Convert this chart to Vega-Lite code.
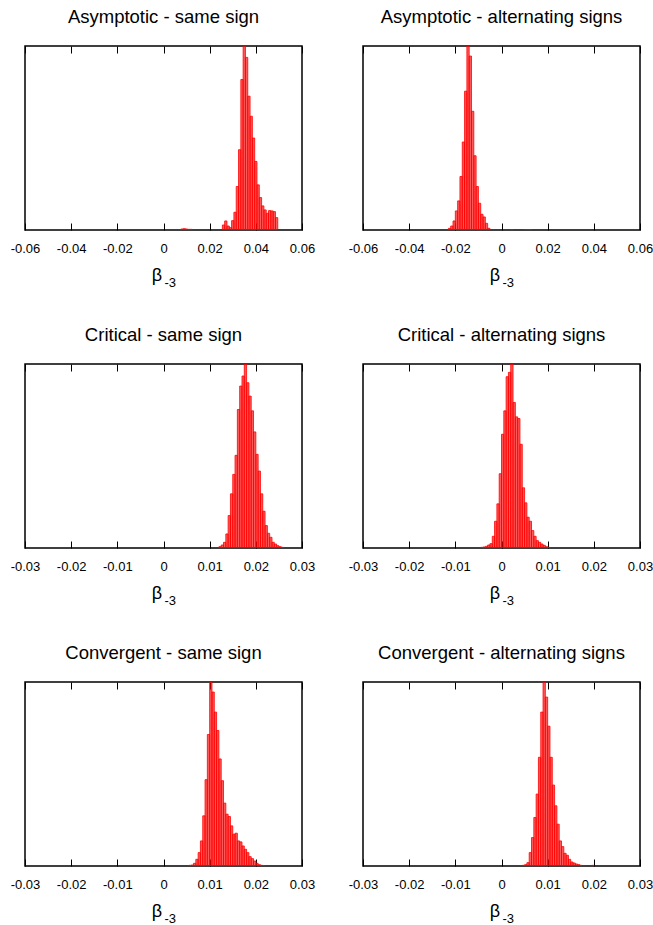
{
  "$schema": "https://vega.github.io/schema/vega-lite/v6.json",
  "padding": {"left": 9, "top": 7, "right": 0, "bottom": 0},
  "config": {
    "font": "Liberation Sans",
    "view": {"stroke": "#000", "strokeWidth": 1.5},
    "title": {"fontSize": 18.5, "fontWeight": "normal", "font": "Liberation Sans", "color": "#000", "offset": 19, "anchor": "middle"},
    "axis": {
      "labelFont": "Liberation Sans", "labelFontSize": 13, "labelColor": "#000", "labelFlush": false,
      "titleFont": "Liberation Sans", "titleFontWeight": "normal", "titleColor": "#000",
      "tickSize": -7, "tickColor": "#000", "tickWidth": 1, "domain": false, "grid": false,
      "labelPadding": 19
    }
  },
  "datasets": {
    "a1": [
      {"lo": 0.0075, "hi": 0.0085, "n": 3}, {"lo": 0.0085, "hi": 0.0095, "n": 4}, {"lo": 0.0095, "hi": 0.0105, "n": 3},
      {"lo": 0.0105, "hi": 0.0115, "n": 2}, {"lo": 0.0115, "hi": 0.0125, "n": 2},
      {"lo": 0.0255, "hi": 0.0265, "n": 15}, {"lo": 0.0265, "hi": 0.0275, "n": 27}, {"lo": 0.0275, "hi": 0.0285, "n": 12},
      {"lo": 0.0285, "hi": 0.0295, "n": 7}, {"lo": 0.0295, "hi": 0.0305, "n": 28}, {"lo": 0.0305, "hi": 0.0315, "n": 53},
      {"lo": 0.0315, "hi": 0.0325, "n": 130}, {"lo": 0.0325, "hi": 0.0335, "n": 240}, {"lo": 0.0335, "hi": 0.0345, "n": 450},
      {"lo": 0.0345, "hi": 0.0355, "n": 550}, {"lo": 0.0355, "hi": 0.0365, "n": 516}, {"lo": 0.0365, "hi": 0.0375, "n": 400},
      {"lo": 0.0375, "hi": 0.0385, "n": 340}, {"lo": 0.0385, "hi": 0.0395, "n": 275}, {"lo": 0.0395, "hi": 0.0405, "n": 205},
      {"lo": 0.0405, "hi": 0.0415, "n": 135}, {"lo": 0.0415, "hi": 0.0425, "n": 97}, {"lo": 0.0425, "hi": 0.0435, "n": 72},
      {"lo": 0.0435, "hi": 0.0445, "n": 60}, {"lo": 0.0445, "hi": 0.0455, "n": 50}, {"lo": 0.0455, "hi": 0.0465, "n": 58},
      {"lo": 0.0465, "hi": 0.0475, "n": 57}, {"lo": 0.0475, "hi": 0.0485, "n": 55}, {"lo": 0.0485, "hi": 0.0495, "n": 37}
    ],
    "a2": [
      {"lo": -0.023, "hi": -0.022, "n": 5}, {"lo": -0.022, "hi": -0.021, "n": 12}, {"lo": -0.021, "hi": -0.02, "n": 27},
      {"lo": -0.02, "hi": -0.019, "n": 57}, {"lo": -0.019, "hi": -0.018, "n": 87}, {"lo": -0.018, "hi": -0.017, "n": 160},
      {"lo": -0.017, "hi": -0.016, "n": 263}, {"lo": -0.016, "hi": -0.015, "n": 415}, {"lo": -0.015, "hi": -0.014, "n": 550},
      {"lo": -0.014, "hi": -0.013, "n": 520}, {"lo": -0.013, "hi": -0.012, "n": 355}, {"lo": -0.012, "hi": -0.011, "n": 222},
      {"lo": -0.011, "hi": -0.01, "n": 130}, {"lo": -0.01, "hi": -0.009, "n": 80}, {"lo": -0.009, "hi": -0.008, "n": 47},
      {"lo": -0.008, "hi": -0.007, "n": 39}, {"lo": -0.007, "hi": -0.006, "n": 20}, {"lo": -0.006, "hi": -0.005, "n": 5},
      {"lo": 0.004, "hi": 0.005, "n": 1}, {"lo": 0.01, "hi": 0.011, "n": 1}, {"lo": 0.011, "hi": 0.012, "n": 1}, {"lo": 0.012, "hi": 0.013, "n": 1}
    ],
    "c1": [
      {"lo": 0.012, "hi": 0.0125, "n": 4}, {"lo": 0.0125, "hi": 0.013, "n": 9}, {"lo": 0.013, "hi": 0.0135, "n": 17},
      {"lo": 0.0135, "hi": 0.014, "n": 42}, {"lo": 0.014, "hi": 0.0145, "n": 97}, {"lo": 0.0145, "hi": 0.015, "n": 162},
      {"lo": 0.015, "hi": 0.0155, "n": 220}, {"lo": 0.0155, "hi": 0.016, "n": 277}, {"lo": 0.016, "hi": 0.0165, "n": 414},
      {"lo": 0.0165, "hi": 0.017, "n": 484}, {"lo": 0.017, "hi": 0.0175, "n": 514}, {"lo": 0.0175, "hi": 0.018, "n": 550},
      {"lo": 0.018, "hi": 0.0185, "n": 494}, {"lo": 0.0185, "hi": 0.019, "n": 454}, {"lo": 0.019, "hi": 0.0195, "n": 410},
      {"lo": 0.0195, "hi": 0.02, "n": 347}, {"lo": 0.02, "hi": 0.0205, "n": 280}, {"lo": 0.0205, "hi": 0.021, "n": 230},
      {"lo": 0.021, "hi": 0.0215, "n": 162}, {"lo": 0.0215, "hi": 0.022, "n": 110}, {"lo": 0.022, "hi": 0.0225, "n": 67},
      {"lo": 0.0225, "hi": 0.023, "n": 44}, {"lo": 0.023, "hi": 0.0235, "n": 32}, {"lo": 0.0235, "hi": 0.024, "n": 17},
      {"lo": 0.024, "hi": 0.0245, "n": 12}, {"lo": 0.0245, "hi": 0.025, "n": 7}, {"lo": 0.025, "hi": 0.0255, "n": 4},
      {"lo": 0.0255, "hi": 0.026, "n": 2}
    ],
    "c2": [
      {"lo": -0.0045, "hi": -0.004, "n": 2}, {"lo": -0.004, "hi": -0.0035, "n": 3}, {"lo": -0.0035, "hi": -0.003, "n": 5},
      {"lo": -0.003, "hi": -0.0025, "n": 9}, {"lo": -0.0025, "hi": -0.002, "n": 13}, {"lo": -0.002, "hi": -0.0015, "n": 35},
      {"lo": -0.0015, "hi": -0.001, "n": 80}, {"lo": -0.001, "hi": -0.0005, "n": 132}, {"lo": -0.0005, "hi": 0, "n": 222},
      {"lo": 0, "hi": 0.0005, "n": 340}, {"lo": 0.0005, "hi": 0.001, "n": 410}, {"lo": 0.001, "hi": 0.0015, "n": 512},
      {"lo": 0.0015, "hi": 0.002, "n": 525}, {"lo": 0.002, "hi": 0.0025, "n": 550}, {"lo": 0.0025, "hi": 0.003, "n": 435},
      {"lo": 0.003, "hi": 0.0035, "n": 392}, {"lo": 0.0035, "hi": 0.004, "n": 387}, {"lo": 0.004, "hi": 0.0045, "n": 310},
      {"lo": 0.0045, "hi": 0.005, "n": 180}, {"lo": 0.005, "hi": 0.0055, "n": 135}, {"lo": 0.0055, "hi": 0.006, "n": 92},
      {"lo": 0.006, "hi": 0.0065, "n": 80}, {"lo": 0.0065, "hi": 0.007, "n": 52}, {"lo": 0.007, "hi": 0.0075, "n": 35},
      {"lo": 0.0075, "hi": 0.008, "n": 22}, {"lo": 0.008, "hi": 0.0085, "n": 17}, {"lo": 0.0085, "hi": 0.009, "n": 12},
      {"lo": 0.009, "hi": 0.0095, "n": 8}, {"lo": 0.0095, "hi": 0.01, "n": 4}, {"lo": 0.01, "hi": 0.0105, "n": 2}
    ],
    "v1": [
      {"lo": 0.0055, "hi": 0.006, "n": 2}, {"lo": 0.006, "hi": 0.0065, "n": 3}, {"lo": 0.0065, "hi": 0.007, "n": 8},
      {"lo": 0.007, "hi": 0.0075, "n": 20}, {"lo": 0.0075, "hi": 0.008, "n": 40}, {"lo": 0.008, "hi": 0.0085, "n": 75},
      {"lo": 0.0085, "hi": 0.009, "n": 150}, {"lo": 0.009, "hi": 0.0095, "n": 258}, {"lo": 0.0095, "hi": 0.01, "n": 393},
      {"lo": 0.01, "hi": 0.0105, "n": 550}, {"lo": 0.0105, "hi": 0.011, "n": 520}, {"lo": 0.011, "hi": 0.0115, "n": 460},
      {"lo": 0.0115, "hi": 0.012, "n": 405}, {"lo": 0.012, "hi": 0.0125, "n": 320}, {"lo": 0.0125, "hi": 0.013, "n": 255},
      {"lo": 0.013, "hi": 0.0135, "n": 188}, {"lo": 0.0135, "hi": 0.014, "n": 155}, {"lo": 0.014, "hi": 0.0145, "n": 148},
      {"lo": 0.0145, "hi": 0.015, "n": 120}, {"lo": 0.015, "hi": 0.0155, "n": 95}, {"lo": 0.0155, "hi": 0.016, "n": 98},
      {"lo": 0.016, "hi": 0.0165, "n": 75}, {"lo": 0.0165, "hi": 0.017, "n": 72}, {"lo": 0.017, "hi": 0.0175, "n": 60},
      {"lo": 0.0175, "hi": 0.018, "n": 50}, {"lo": 0.018, "hi": 0.0185, "n": 40}, {"lo": 0.0185, "hi": 0.019, "n": 28},
      {"lo": 0.019, "hi": 0.0195, "n": 22}, {"lo": 0.0195, "hi": 0.02, "n": 15}, {"lo": 0.02, "hi": 0.0205, "n": 8},
      {"lo": 0.0205, "hi": 0.021, "n": 4}, {"lo": 0.021, "hi": 0.0215, "n": 2}, {"lo": 0.0215, "hi": 0.022, "n": 1}
    ],
    "v2": [
      {"lo": 0.004, "hi": 0.0045, "n": 1}, {"lo": 0.0045, "hi": 0.005, "n": 2}, {"lo": 0.005, "hi": 0.0055, "n": 4},
      {"lo": 0.0055, "hi": 0.006, "n": 10}, {"lo": 0.006, "hi": 0.0065, "n": 40}, {"lo": 0.0065, "hi": 0.007, "n": 85},
      {"lo": 0.007, "hi": 0.0075, "n": 145}, {"lo": 0.0075, "hi": 0.008, "n": 215}, {"lo": 0.008, "hi": 0.0085, "n": 325},
      {"lo": 0.0085, "hi": 0.009, "n": 460}, {"lo": 0.009, "hi": 0.0095, "n": 550}, {"lo": 0.0095, "hi": 0.01, "n": 505},
      {"lo": 0.01, "hi": 0.0105, "n": 418}, {"lo": 0.0105, "hi": 0.011, "n": 325}, {"lo": 0.011, "hi": 0.0115, "n": 242},
      {"lo": 0.0115, "hi": 0.012, "n": 180}, {"lo": 0.012, "hi": 0.0125, "n": 125}, {"lo": 0.0125, "hi": 0.013, "n": 75},
      {"lo": 0.013, "hi": 0.0135, "n": 58}, {"lo": 0.0135, "hi": 0.014, "n": 38}, {"lo": 0.014, "hi": 0.0145, "n": 32},
      {"lo": 0.0145, "hi": 0.015, "n": 20}, {"lo": 0.015, "hi": 0.0155, "n": 12}, {"lo": 0.0155, "hi": 0.016, "n": 9},
      {"lo": 0.016, "hi": 0.0165, "n": 6}, {"lo": 0.0165, "hi": 0.017, "n": 4}, {"lo": 0.017, "hi": 0.0175, "n": 2},
      {"lo": 0.0195, "hi": 0.02, "n": 2}
    ]
  },
  "columns": 2,
  "spacing": {"row": 134, "column": 61},
  "bounds": "flush",
  "concat": [
    {
      "title": "Asymptotic - same sign", "width": 277, "height": 184, "data": {"name": "a1"},
      "layer": [
        {"mark": {"type": "bar", "fill": "#ff0000", "fillOpacity": 0.65, "stroke": "#ff0000", "strokeWidth": 0.8, "clip": true},
         "encoding": {
           "x": {"field": "lo", "type": "quantitative", "scale": {"domain": [-0.06, 0.06], "nice": false, "zero": false},
                 "axis": {"orient": "bottom", "values": [-0.06, -0.04, -0.02, 0, 0.02, 0.04, 0.06], "labelExpr": "'' + datum.value",
                          "title": "β", "titleFontSize": 18, "titleX": 131.5, "titleY": 50, "titleAlign": "center", "titleBaseline": "alphabetic", "titleAngle": 0}},
           "x2": {"field": "hi"},
           "y": {"field": "n", "type": "quantitative", "scale": {"domain": [0, 550]}, "axis": null},
           "y2": {"datum": 0}}},
        {"mark": {"type": "bar", "opacity": 0},
         "encoding": {
           "x": {"field": "lo", "type": "quantitative",
                 "axis": {"orient": "top", "values": [-0.06, -0.04, -0.02, 0, 0.02, 0.04, 0.06], "labels": false,
                          "title": "-3", "titleFontSize": 13, "titleX": 139, "titleY": 240.5, "titleAlign": "left", "titleBaseline": "alphabetic", "titleAngle": 0}},
           "x2": {"field": "hi"},
           "y": {"field": "n", "type": "quantitative", "axis": null},
           "y2": {"datum": 0}}}
      ],
      "resolve": {"axis": {"x": "independent"}}
    },
    {
      "title": "Asymptotic - alternating signs", "width": 277, "height": 184, "data": {"name": "a2"},
      "layer": [
        {"mark": {"type": "bar", "fill": "#ff0000", "fillOpacity": 0.65, "stroke": "#ff0000", "strokeWidth": 0.8, "clip": true},
         "encoding": {
           "x": {"field": "lo", "type": "quantitative", "scale": {"domain": [-0.06, 0.06], "nice": false, "zero": false},
                 "axis": {"orient": "bottom", "values": [-0.06, -0.04, -0.02, 0, 0.02, 0.04, 0.06], "labelExpr": "'' + datum.value",
                          "title": "β", "titleFontSize": 18, "titleX": 131.5, "titleY": 50, "titleAlign": "center", "titleBaseline": "alphabetic", "titleAngle": 0}},
           "x2": {"field": "hi"},
           "y": {"field": "n", "type": "quantitative", "scale": {"domain": [0, 550]}, "axis": null},
           "y2": {"datum": 0}}},
        {"mark": {"type": "bar", "opacity": 0},
         "encoding": {
           "x": {"field": "lo", "type": "quantitative",
                 "axis": {"orient": "top", "values": [-0.06, -0.04, -0.02, 0, 0.02, 0.04, 0.06], "labels": false,
                          "title": "-3", "titleFontSize": 13, "titleX": 139, "titleY": 240.5, "titleAlign": "left", "titleBaseline": "alphabetic", "titleAngle": 0}},
           "x2": {"field": "hi"},
           "y": {"field": "n", "type": "quantitative", "axis": null},
           "y2": {"datum": 0}}}
      ],
      "resolve": {"axis": {"x": "independent"}}
    },
    {
      "title": "Critical - same sign", "width": 277, "height": 184, "data": {"name": "c1"},
      "layer": [
        {"mark": {"type": "bar", "fill": "#ff0000", "fillOpacity": 0.65, "stroke": "#ff0000", "strokeWidth": 0.8, "clip": true},
         "encoding": {
           "x": {"field": "lo", "type": "quantitative", "scale": {"domain": [-0.03, 0.03], "nice": false, "zero": false},
                 "axis": {"orient": "bottom", "values": [-0.03, -0.02, -0.01, 0, 0.01, 0.02, 0.03], "labelExpr": "'' + datum.value",
                          "title": "β", "titleFontSize": 18, "titleX": 131.5, "titleY": 50, "titleAlign": "center", "titleBaseline": "alphabetic", "titleAngle": 0}},
           "x2": {"field": "hi"},
           "y": {"field": "n", "type": "quantitative", "scale": {"domain": [0, 550]}, "axis": null},
           "y2": {"datum": 0}}},
        {"mark": {"type": "bar", "opacity": 0},
         "encoding": {
           "x": {"field": "lo", "type": "quantitative",
                 "axis": {"orient": "top", "values": [-0.03, -0.02, -0.01, 0, 0.01, 0.02, 0.03], "labels": false,
                          "title": "-3", "titleFontSize": 13, "titleX": 139, "titleY": 240.5, "titleAlign": "left", "titleBaseline": "alphabetic", "titleAngle": 0}},
           "x2": {"field": "hi"},
           "y": {"field": "n", "type": "quantitative", "axis": null},
           "y2": {"datum": 0}}}
      ],
      "resolve": {"axis": {"x": "independent"}}
    },
    {
      "title": "Critical - alternating signs", "width": 277, "height": 184, "data": {"name": "c2"},
      "layer": [
        {"mark": {"type": "bar", "fill": "#ff0000", "fillOpacity": 0.65, "stroke": "#ff0000", "strokeWidth": 0.8, "clip": true},
         "encoding": {
           "x": {"field": "lo", "type": "quantitative", "scale": {"domain": [-0.03, 0.03], "nice": false, "zero": false},
                 "axis": {"orient": "bottom", "values": [-0.03, -0.02, -0.01, 0, 0.01, 0.02, 0.03], "labelExpr": "'' + datum.value",
                          "title": "β", "titleFontSize": 18, "titleX": 131.5, "titleY": 50, "titleAlign": "center", "titleBaseline": "alphabetic", "titleAngle": 0}},
           "x2": {"field": "hi"},
           "y": {"field": "n", "type": "quantitative", "scale": {"domain": [0, 550]}, "axis": null},
           "y2": {"datum": 0}}},
        {"mark": {"type": "bar", "opacity": 0},
         "encoding": {
           "x": {"field": "lo", "type": "quantitative",
                 "axis": {"orient": "top", "values": [-0.03, -0.02, -0.01, 0, 0.01, 0.02, 0.03], "labels": false,
                          "title": "-3", "titleFontSize": 13, "titleX": 139, "titleY": 240.5, "titleAlign": "left", "titleBaseline": "alphabetic", "titleAngle": 0}},
           "x2": {"field": "hi"},
           "y": {"field": "n", "type": "quantitative", "axis": null},
           "y2": {"datum": 0}}}
      ],
      "resolve": {"axis": {"x": "independent"}}
    },
    {
      "title": "Convergent - same sign", "width": 277, "height": 184, "data": {"name": "v1"},
      "layer": [
        {"mark": {"type": "bar", "fill": "#ff0000", "fillOpacity": 0.65, "stroke": "#ff0000", "strokeWidth": 0.8, "clip": true},
         "encoding": {
           "x": {"field": "lo", "type": "quantitative", "scale": {"domain": [-0.03, 0.03], "nice": false, "zero": false},
                 "axis": {"orient": "bottom", "values": [-0.03, -0.02, -0.01, 0, 0.01, 0.02, 0.03], "labelExpr": "'' + datum.value",
                          "title": "β", "titleFontSize": 18, "titleX": 131.5, "titleY": 50, "titleAlign": "center", "titleBaseline": "alphabetic", "titleAngle": 0}},
           "x2": {"field": "hi"},
           "y": {"field": "n", "type": "quantitative", "scale": {"domain": [0, 550]}, "axis": null},
           "y2": {"datum": 0}}},
        {"mark": {"type": "bar", "opacity": 0},
         "encoding": {
           "x": {"field": "lo", "type": "quantitative",
                 "axis": {"orient": "top", "values": [-0.03, -0.02, -0.01, 0, 0.01, 0.02, 0.03], "labels": false,
                          "title": "-3", "titleFontSize": 13, "titleX": 139, "titleY": 240.5, "titleAlign": "left", "titleBaseline": "alphabetic", "titleAngle": 0}},
           "x2": {"field": "hi"},
           "y": {"field": "n", "type": "quantitative", "axis": null},
           "y2": {"datum": 0}}}
      ],
      "resolve": {"axis": {"x": "independent"}}
    },
    {
      "title": "Convergent - alternating signs", "width": 277, "height": 184, "data": {"name": "v2"},
      "layer": [
        {"mark": {"type": "bar", "fill": "#ff0000", "fillOpacity": 0.65, "stroke": "#ff0000", "strokeWidth": 0.8, "clip": true},
         "encoding": {
           "x": {"field": "lo", "type": "quantitative", "scale": {"domain": [-0.03, 0.03], "nice": false, "zero": false},
                 "axis": {"orient": "bottom", "values": [-0.03, -0.02, -0.01, 0, 0.01, 0.02, 0.03], "labelExpr": "'' + datum.value",
                          "title": "β", "titleFontSize": 18, "titleX": 131.5, "titleY": 50, "titleAlign": "center", "titleBaseline": "alphabetic", "titleAngle": 0}},
           "x2": {"field": "hi"},
           "y": {"field": "n", "type": "quantitative", "scale": {"domain": [0, 550]}, "axis": null},
           "y2": {"datum": 0}}},
        {"mark": {"type": "bar", "opacity": 0},
         "encoding": {
           "x": {"field": "lo", "type": "quantitative",
                 "axis": {"orient": "top", "values": [-0.03, -0.02, -0.01, 0, 0.01, 0.02, 0.03], "labels": false,
                          "title": "-3", "titleFontSize": 13, "titleX": 139, "titleY": 240.5, "titleAlign": "left", "titleBaseline": "alphabetic", "titleAngle": 0}},
           "x2": {"field": "hi"},
           "y": {"field": "n", "type": "quantitative", "axis": null},
           "y2": {"datum": 0}}}
      ],
      "resolve": {"axis": {"x": "independent"}}
    }
  ]
}
